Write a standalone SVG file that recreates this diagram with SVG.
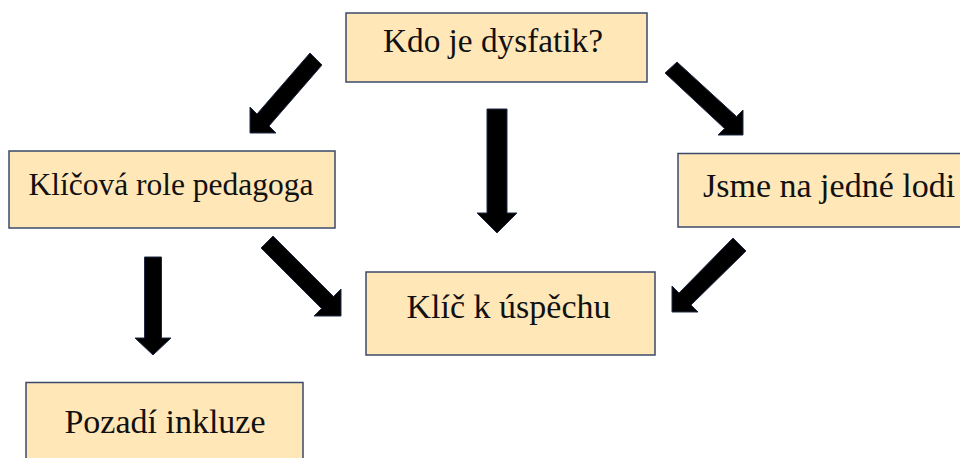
<svg xmlns="http://www.w3.org/2000/svg" width="960" height="458" viewBox="0 0 960 458">
<style>
.box{fill:#FFE7B8;stroke:#3B4A6B;stroke-width:1.5}
.lbl{font-family:'Liberation Serif','DejaVu Serif',serif;font-size:34px;fill:#111}
.arr{fill:#000;stroke:#1F2A44;stroke-width:1;stroke-linejoin:miter}
</style>
<rect width="960" height="458" fill="#fff"/>
<g id="connectors">
<polygon class="arr" points="310,53 322,65 269,126 276,133 250,133 250,107 257,114"/>
<polygon class="arr" points="487,109 507,109 507,213 517,213 497,233 477,213 487,213"/>
<polygon class="arr" points="665,73 677,62 736.5,116.5 743,110 743,135 718,135 724.5,128.5"/>
<polygon class="arr" points="733,238 746,251 691,305 698,312 672,312 672,286 679,293"/>
<polygon class="arr" points="261,248 273,236 333.5,296.5 341,289 341,316 314,316 321.5,308.5"/>
<polygon class="arr" points="144.5,257 161.5,257 161.5,338 171,338 153,355 135,338 144.5,338"/>
</g>
<g id="kdo">
<rect class="box" x="346" y="13" width="301" height="69"/>
<text class="lbl" x="493" y="52" text-anchor="middle" style="font-size:33.3px">Kdo je dysfatik?</text>
</g>
<g id="klicova">
<rect class="box" x="9" y="151" width="326" height="77"/>
<text class="lbl" x="171" y="195" text-anchor="middle" style="font-size:31.5px">Klíčová role pedagoga</text>
</g>
<g id="jsme">
<rect class="box" x="678" y="153.5" width="290" height="73.5"/>
<text class="lbl" x="703" y="197">Jsme na jedné lodi</text>
</g>
<g id="klic">
<rect class="box" x="366" y="272" width="289" height="83"/>
<text class="lbl" x="508.5" y="318" text-anchor="middle">Klíč k úspěchu</text>
</g>
<g id="pozadi">
<rect class="box" x="26" y="382.5" width="277" height="90"/>
<text class="lbl" x="165" y="433" text-anchor="middle">Pozadí inkluze</text>
</g>
</svg>
